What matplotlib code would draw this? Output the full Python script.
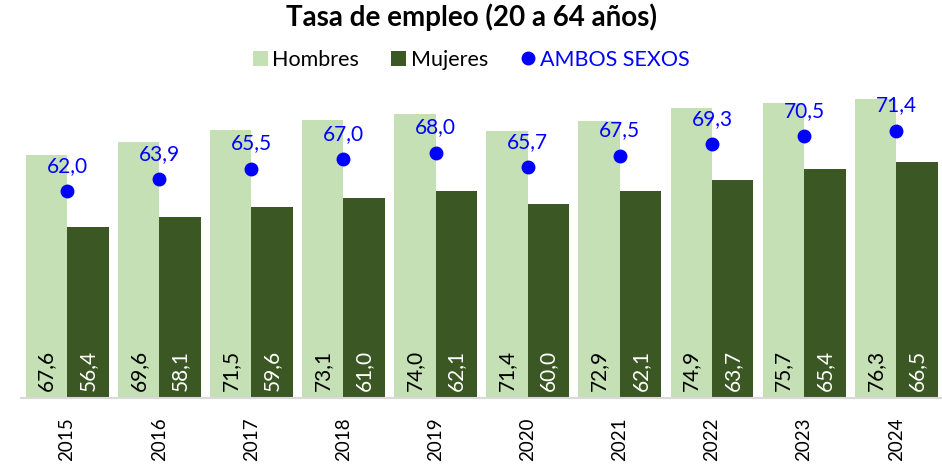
import matplotlib
matplotlib.use("Agg")
import matplotlib.pyplot as plt
import numpy as np

plt.rcParams['font.family'] = ['Lato', 'DejaVu Sans']

# datos
years = ['2015', '2016', '2017', '2018', '2019', '2020', '2021', '2022', '2023', '2024']
hombres = [67.6, 69.6, 71.5, 73.1, 74.0, 71.4, 72.9, 74.9, 75.7, 76.3]
mujeres = [56.4, 58.1, 59.6, 61.0, 62.1, 60.0, 62.1, 63.7, 65.4, 66.5]
ambos = [62.0, 63.9, 65.5, 67.0, 68.0, 65.7, 67.5, 69.3, 70.5, 71.4]

c_h = '#C5E0B4'
c_m = '#3B5723'
c_a = '#0000FF'

def fmt(v):
    return f"{v:.1f}".replace('.', ',')

fig = plt.figure(figsize=(9.42, 4.67), dpi=100)
ax = fig.add_axes([0.0223, 0.148, 0.978, 0.691])

x = np.arange(len(years))
w = 0.45
bh = ax.bar(x - w / 2, hombres, width=w, color=c_h, label='Hombres', zorder=2)
bm = ax.bar(x + w / 2, mujeres, width=w, color=c_m, label='Mujeres', zorder=2)
la, = ax.plot(x, ambos, 'o', color=c_a, markersize=9, label='AMBOS SEXOS', zorder=3)

ymin = 30
ax.set_ylim(ymin, 80)
ax.set_xlim(-0.5, len(years) - 0.5)

# etiquetas dentro de las barras
for i in range(len(years)):
    ax.annotate(fmt(hombres[i]), (x[i] - w / 2, ymin), xytext=(0, 5), textcoords='offset points',
                rotation=90, ha='center', va='bottom', fontsize=15, color='black')
    ax.annotate(fmt(mujeres[i]), (x[i] + w / 2, ymin), xytext=(0, 5), textcoords='offset points',
                rotation=90, ha='center', va='bottom', fontsize=15, color='white')
    ax.annotate(fmt(ambos[i]), (x[i], ambos[i]), xytext=(0, 11), textcoords='offset points',
                ha='center', va='bottom', fontsize=15, color=c_a)

ax.set_xticks(x)
ax.set_xticklabels(years, rotation=90, fontsize=13.5)
ax.tick_params(axis='x', length=0, pad=14)
ax.set_yticks([])
for s in ['top', 'right', 'left']:
    ax.spines[s].set_visible(False)
ax.spines['bottom'].set_color('#D9D9D9')
ax.spines['bottom'].set_linewidth(1.5)

fig.text(0.5, 0.963, 'Tasa de empleo (20 a 64 años)', ha='center', va='center',
         fontsize=20, fontweight='bold')

leg = fig.legend(handles=[bh, bm, la], labels=['Hombres', 'Mujeres', 'AMBOS SEXOS'],
                 loc='center', bbox_to_anchor=(0.5, 0.872), ncol=3, frameon=False,
                 fontsize=15.5, handlelength=0.7, handleheight=0.7, handletextpad=0.2,
                 columnspacing=1.5, borderaxespad=0)
leg.get_texts()[2].set_color(c_a)

fig.savefig('out.png', dpi=100)
